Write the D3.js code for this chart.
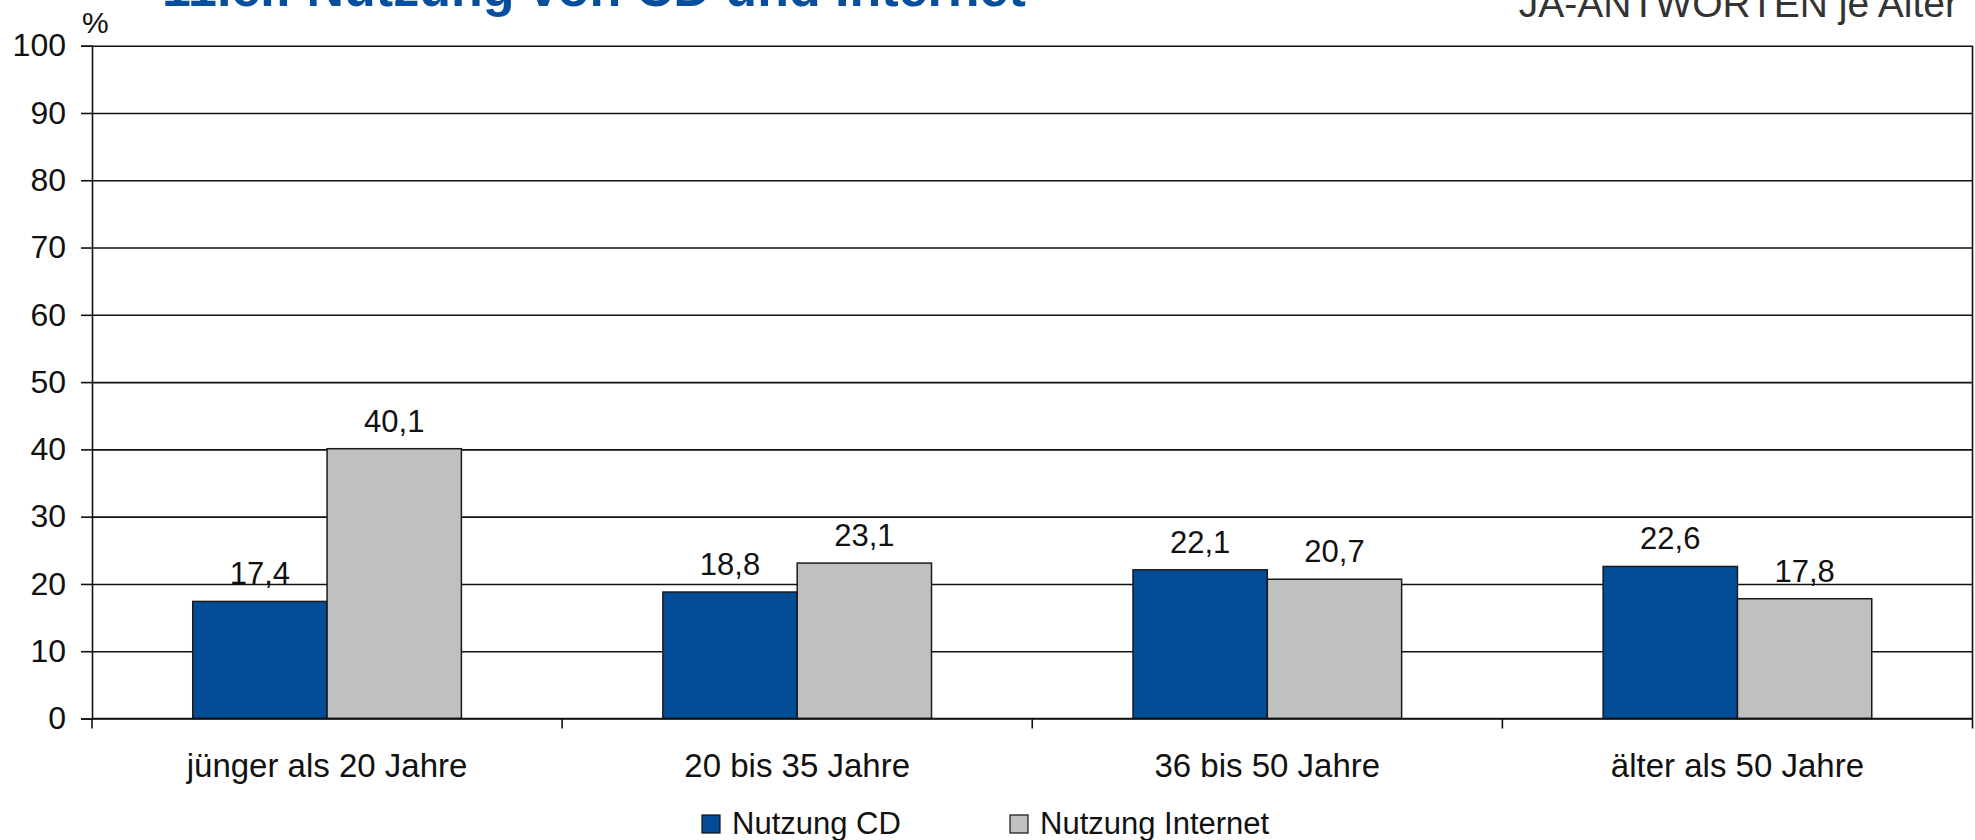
<!DOCTYPE html>
<html>
<head>
<meta charset="utf-8">
<script src="https://cdn.jsdelivr.net/npm/d3@7"></script>
<style>
  body { margin: 0; background: #fff; }
  text { font-family: "Liberation Sans", Arial, sans-serif; }
</style>
</head>
<body>
<div id="chart"></div>
<script>
let categories = ["jünger als 20 Jahre", "20 bis 35 Jahre", "36 bis 50 Jahre", "älter als 50 Jahre"];
let seriesNames = ["Nutzung CD", "Nutzung Internet"];
let cdValues = [17.4, 18.8, 22.1, 22.6];
let internetValues = [40.1, 23.1, 20.7, 17.8];
let yTicks = [0, 10, 20, 30, 40, 50, 60, 70, 80, 90, 100];

let colors = ["#034c96", "#c0c0c0"];

let exteriorWidth  = 1975,
    exteriorHeight = 840;

let plot = { left: 92, right: 1972.5, top: 45.7, bottom: 718.5 };

let svg =
  d3.select("#chart")
    .append("svg")
      .attr("width", exteriorWidth)
      .attr("height", exteriorHeight);

let x0 =
  d3.scaleBand()
    .domain(categories)
    .range([plot.left, plot.right]);

// Excel style gap width 150%
let x1 =
  d3.scaleBand()
    .domain(seriesNames)
    .range([0, x0.bandwidth()])
    .paddingInner(0)
    .paddingOuter(0.75);

let y =
  d3.scaleLinear()
    .domain([0, 100])
    .range([plot.bottom, plot.top]);

let fmt = v => d3.format(".1f")(v).replace(".", ",");

// title (cut at top edge)
svg.append("text")
    .attr("x", 162)
    .attr("y", 6)
    .attr("font-size", 52)
    .attr("font-weight", "bold")
    .attr("fill", "#064e9e")
    .text("11.c.: Nutzung von CD und Internet");

svg.append("text")
    .attr("x", 1958)
    .attr("y", 17)
    .attr("text-anchor", "end")
    .attr("font-size", 39)
    .attr("fill", "#333")
    .text("JA-ANTWORTEN je Alter");

svg.append("text")
    .attr("x", 82)
    .attr("y", 33)
    .attr("font-size", 30)
    .attr("fill", "#111")
    .text("%");

// gridlines
svg.append("g")
    .attr("transform", "translate(" + plot.left + ",0)")
    .call(d3.axisLeft(y).tickValues(yTicks).tickSize(-(plot.right - plot.left)).tickFormat(""))
    .call(g => g.select(".domain").remove())
    .call(g => g.selectAll("line").attr("stroke", "#111").attr("stroke-width", 1.6));

// right border
svg.append("line")
    .attr("x1", plot.right).attr("x2", plot.right)
    .attr("y1", y(100)).attr("y2", y(0))
    .attr("stroke", "#111").attr("stroke-width", 1.6);

// bars
let series = [cdValues, internetValues];
let groups = svg.append("g")
  .selectAll("g")
  .data(categories)
  .join("g")
    .attr("transform", d => "translate(" + x0(d) + ",0)");

groups.selectAll("rect")
  .data((d, i) => seriesNames.map((s, j) => ({ series: s, value: series[j][i], idx: j })))
  .join("rect")
    .attr("x", d => x1(d.series))
    .attr("y", d => y(d.value))
    .attr("width", x1.bandwidth())
    .attr("height", d => y(0) - y(d.value))
    .attr("fill", d => colors[d.idx])
    .attr("stroke", "#1a1a1a")
    .attr("stroke-width", 1.5);

groups.selectAll("text.val")
  .data((d, i) => seriesNames.map((s, j) => ({ series: s, value: series[j][i] })))
  .join("text")
    .attr("class", "val")
    .attr("x", d => x1(d.series) + x1.bandwidth() / 2)
    .attr("y", d => y(d.value) - 17)
    .attr("text-anchor", "middle")
    .attr("font-size", 31)
    .attr("fill", "#111")
    .text(d => fmt(d.value));

// y axis
svg.append("g")
    .attr("transform", "translate(" + plot.left + ",0)")
    .call(d3.axisLeft(y).tickValues(yTicks).tickSize(11).tickPadding(15))
    .call(g => g.select(".domain").attr("stroke", "#111").attr("stroke-width", 1.6))
    .call(g => g.selectAll("line").attr("stroke", "#111").attr("stroke-width", 1.6))
    .call(g => g.selectAll("text")
      .attr("font-size", 32)
      .attr("fill", "#111")
      .attr("font-family", "Liberation Sans, Arial, sans-serif"));

// x axis: ticks at band edges
let xEdges = categories.map(c => x0(c)).concat([plot.right]);
let xAxis = svg.append("g");
xAxis.append("line")
    .attr("x1", plot.left).attr("x2", plot.right)
    .attr("y1", y(0)).attr("y2", y(0))
    .attr("stroke", "#111").attr("stroke-width", 1.6);
xAxis.selectAll("line.tick")
  .data(xEdges)
  .join("line")
    .attr("class", "tick")
    .attr("x1", d => d).attr("x2", d => d)
    .attr("y1", y(0)).attr("y2", y(0) + 10)
    .attr("stroke", "#111").attr("stroke-width", 1.6);
xAxis.selectAll("text")
  .data(categories)
  .join("text")
    .attr("x", d => x0(d) + x0.bandwidth() / 2)
    .attr("y", 777)
    .attr("text-anchor", "middle")
    .attr("font-size", 33)
    .attr("fill", "#111")
    .text(d => d);

// legend
let legendX = [702, 1010];
let legend = svg.append("g")
  .selectAll("g")
  .data(seriesNames)
  .join("g")
    .attr("transform", (d, i) => "translate(" + legendX[i] + ",815)");
legend.append("rect")
    .attr("width", 18).attr("height", 18)
    .attr("fill", (d, i) => colors[i])
    .attr("stroke", "#111").attr("stroke-width", 1.2);
legend.append("text")
    .attr("x", 30)
    .attr("y", 19)
    .attr("font-size", 31)
    .attr("fill", "#111")
    .text(d => d);
</script>
</body>
</html>
